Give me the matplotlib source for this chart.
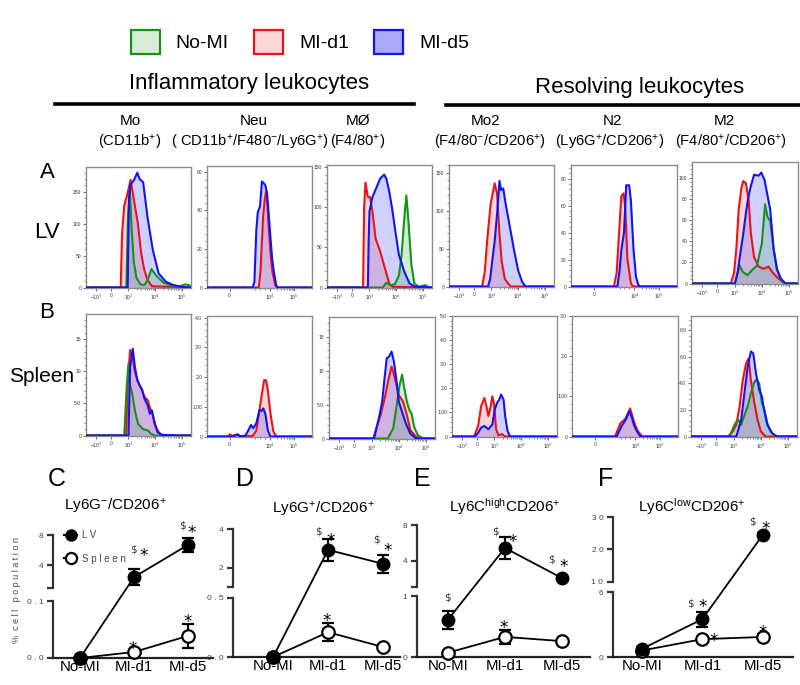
import numpy as np
import matplotlib
matplotlib.use('Agg')
import matplotlib.pyplot as plt
from matplotlib.lines import Line2D
from matplotlib.patches import Patch
from matplotlib.ticker import FixedLocator, NullLocator, AutoMinorLocator
from matplotlib import font_manager

names = {f.name for f in font_manager.fontManager.ttflist}
NARROW = 'Liberation Sans Narrow' if 'Liberation Sans Narrow' in names else 'Liberation Sans'
plt.rcParams['font.family'] = [NARROW, 'DejaVu Sans']
plt.rcParams['mathtext.fontset'] = 'custom'
plt.rcParams['mathtext.rm'] = NARROW
plt.rcParams['mathtext.it'] = NARROW
plt.rcParams['mathtext.bf'] = NARROW

# ---------------- histogram data (x in log-like display units: 10^3=3, 10^4=4, 10^5=5) -------------
# Row A (LV)
lv_mo_red_x = [2.71, 2.76, 2.84, 2.95, 3.08, 3.24, 3.35, 3.47, 3.59, 3.71, 3.88]
lv_mo_red_y = [0, 85, 128, 145, 169, 128, 101, 55, 28, 12, 2]
lv_mo_green_x = [2.92, 2.98, 3.05, 3.12, 3.2, 3.3, 3.45, 3.6, 3.72, 3.86, 4.05, 4.3, 4.6, 4.9, 5.15, 5.3]
lv_mo_green_y = [0, 110, 153, 90, 40, 15, 5, 4, 12, 29, 18, 8, 3, 2, 5, 3]
lv_mo_blue_x = [2.97, 3.02, 3.08, 3.2, 3.33, 3.42, 3.55, 3.71, 3.91, 4.13, 4.4, 4.67, 5.0]
lv_mo_blue_y = [0, 140, 162, 168, 180, 170, 165, 111, 59, 22, 9, 4, 1]

lv_neu_red_x = [3.55, 3.62, 3.73, 3.8, 3.85, 3.9, 3.96, 4.03, 4.1, 4.23, 4.3]
lv_neu_red_y = [0, 8, 37, 46, 50, 44, 31, 18, 9, 1, 0]
lv_neu_blue_x = [3.3, 3.37, 3.45, 3.51, 3.6, 3.68, 3.76, 3.82, 3.89, 3.96, 4.03, 4.1, 4.16, 4.27, 4.35]
lv_neu_blue_y = [0, 3, 30, 39, 42, 55, 54, 53, 49, 38, 26, 15, 9, 1, 0]

lv_mac_red_x = [2.76, 2.8, 2.85, 2.94, 3.02, 3.11, 3.23, 3.4, 3.51, 3.63, 3.74, 3.85]
lv_mac_red_y = [0, 100, 131, 113, 113, 95, 61, 45, 32, 18, 5, 1]
lv_mac_green_x = [3.5, 3.63, 3.72, 3.8, 3.95, 4.1, 4.2, 4.3, 4.38, 4.46, 4.57, 4.68, 4.85, 5.08, 5.25]
lv_mac_green_y = [0, 6, 4, 3, 4, 15, 40, 85, 115, 82, 28, 5, 1, 3, 0]
lv_mac_blue_x = [2.94, 2.97, 3.0, 3.11, 3.25, 3.4, 3.55, 3.63, 3.74, 3.85, 3.97, 4.1, 4.3, 4.5, 4.7]
lv_mac_blue_y = [0, 60, 95, 113, 124, 136, 141, 136, 120, 98, 70, 41, 20, 5, 1]

lv_mo2_red_x = [2.65, 2.75, 2.84, 2.97, 3.12, 3.21, 3.3, 3.38, 3.5, 3.62, 3.73]
lv_mo2_red_y = [0, 20, 61, 109, 136, 122, 69, 34, 10, 4, 0]
lv_mo2_blue_x = [2.87, 2.95, 3.03, 3.12, 3.21, 3.3, 3.36, 3.44, 3.53, 3.67, 3.85, 4.0, 4.15, 4.27]
lv_mo2_blue_y = [0, 10, 34, 60, 96, 139, 127, 129, 109, 82, 47, 21, 6, 0]

lv_n2_red_x = [3.17, 3.28, 3.38, 3.47, 3.56, 3.63, 3.72, 3.86, 3.94]
lv_n2_red_y = [0, 10, 40, 67, 69, 59, 20, 2.5, 0]
lv_n2_blue_x = [3.31, 3.4, 3.47, 3.58, 3.67, 3.79, 3.86, 3.97, 4.07, 4.17, 4.25]
lv_n2_blue_y = [0, 12, 27, 40, 75, 75, 64, 27, 7, 1, 0]

lv_m2_red_x = [2.85, 2.97, 3.06, 3.14, 3.24, 3.31, 3.41, 3.51, 3.59, 3.71, 3.88, 4.06, 4.25, 4.38, 4.56, 4.75, 4.9]
lv_m2_red_y = [0, 10, 35, 70, 90, 97, 95, 79, 48, 25, 16, 14, 16, 11, 6, 2, 0]
lv_m2_green_x = [3.0, 3.1, 3.18, 3.29, 3.47, 3.65, 3.82, 4.0, 4.12, 4.21, 4.31, 4.44, 4.56, 4.75, 4.88]
lv_m2_green_y = [0, 10, 17, 11, 8, 13, 17, 38, 75, 63, 59, 32, 13, 2, 0]
lv_m2_blue_x = [3.0, 3.1, 3.18, 3.3, 3.41, 3.5, 3.59, 3.71, 3.88, 3.98, 4.1, 4.19, 4.31, 4.44, 4.56, 4.69, 4.88]
lv_m2_blue_y = [0, 10, 25, 45, 67, 82, 92, 103, 102, 105, 98, 86, 70, 32, 14, 5, 0]

# Row B (Spleen)
sp_mo_red_x = [2.91, 2.97, 3.06, 3.16, 3.24, 3.36, 3.48, 3.6, 3.72, 3.8, 3.9, 4.03, 4.15, 4.3]
sp_mo_red_y = [0, 8, 13.3, 12, 9.9, 8.3, 7.3, 6, 5.5, 4.4, 3.4, 1.3, 0.4, 0]
sp_mo_green_x = [2.84, 2.94, 3.0, 3.06, 3.14, 3.24, 3.36, 3.54, 3.72, 3.84, 3.98]
sp_mo_green_y = [0, 8, 11.2, 7.8, 6.5, 3.9, 1.8, 1.0, 0.8, 0.3, 0]
sp_mo_blue_x = [3.0, 3.06, 3.16, 3.24, 3.33, 3.42, 3.52, 3.6, 3.72, 3.8, 3.88, 3.96, 4.09, 4.25, 4.9]
sp_mo_blue_y = [0, 10.7, 13.5, 10.7, 8.6, 7.8, 7.0, 5.7, 4.7, 3.4, 3.9, 2.1, 0.5, 0.1, 0]

sp_neu_red_x = [2.3, 2.36, 2.45, 2.6, 2.68, 2.8, 3.3, 3.45, 3.64, 3.77, 3.85, 3.92, 4.05, 4.15, 4.28]
sp_neu_red_y = [0, 0.08, 0.02, 0.03, 0.08, 0, 0.02, 0.2, 1.23, 1.9, 1.9, 1.56, 0.67, 0.17, 0]
sp_neu_blue_x = [2.4, 2.5, 2.65, 2.8, 3.0, 3.13, 3.23, 3.32, 3.45, 3.58, 3.66, 3.74, 3.83, 3.92, 4.03]
sp_neu_blue_y = [0, 0.03, 0.06, 0.01, 0.03, 0.22, 0.39, 0.28, 0.45, 0.89, 0.86, 0.95, 0.73, 0.22, 0]

sp_mac_red_x = [3.05, 3.2, 3.32, 3.49, 3.61, 3.73, 3.82, 3.91, 4.0, 4.16, 4.3, 4.43, 4.64, 4.78]
sp_mac_red_y = [0, 2.0, 3.4, 6.2, 8.6, 10.6, 9.4, 7.9, 6.4, 5.4, 3.4, 1.2, 0.25, 0]
sp_mac_green_x = [3.59, 3.79, 3.94, 4.03, 4.12, 4.2, 4.3, 4.39, 4.47, 4.57, 4.7, 4.9]
sp_mac_green_y = [0, 1.5, 5.4, 7.9, 9.4, 7.4, 5.4, 4.2, 3.7, 1.7, 0.5, 0]
sp_mac_blue_x = [3.08, 3.26, 3.38, 3.47, 3.55, 3.64, 3.73, 3.82, 3.91, 4.0, 4.12, 4.26, 4.43, 4.64]
sp_mac_blue_y = [0, 3.0, 5.4, 8.9, 11.8, 12.1, 12.8, 11.3, 8.6, 5.4, 3.9, 2.2, 0.7, 0]

sp_mo2_red_x = [2.23, 2.39, 2.5, 2.62, 2.7, 2.77, 2.86, 2.92, 2.98, 3.06, 3.15, 3.28, 3.4]
sp_mo2_red_y = [0, 0.44, 1.26, 1.6, 1.26, 0.85, 1.26, 1.67, 1.4, 0.3, 0.05, 0.1, 0]
sp_mo2_blue_x = [2.27, 2.39, 2.5, 2.62, 2.77, 2.92, 3.01, 3.1, 3.18, 3.25, 3.34, 3.4, 3.49, 3.58]
sp_mo2_blue_y = [0, 0.16, 0.37, 0.44, 0.3, 0.5, 1.12, 1.4, 1.53, 1.74, 1.53, 0.85, 0.23, 0]

sp_n2_red_x = [3.17, 3.4, 3.58, 3.79, 3.96, 4.1, 4.28]
sp_n2_red_y = [0, 0.34, 0.43, 0.7, 0.34, 0.14, 0]
sp_n2_blue_x = [3.24, 3.44, 3.62, 3.76, 3.86, 3.96, 4.1, 4.21]
sp_n2_blue_y = [0, 0.26, 0.43, 0.63, 0.47, 0.26, 0.1, 0]

sp_m2_red_x = [2.78, 2.96, 3.09, 3.21, 3.33, 3.45, 3.55, 3.63, 3.76, 3.88, 4.0, 4.18]
sp_m2_red_y = [0, 0.38, 0.88, 2.25, 4.25, 5.5, 5.9, 4.25, 2.5, 1.25, 0.38, 0]
sp_m2_green_x = [2.84, 3.02, 3.15, 3.27, 3.39, 3.51, 3.63, 3.76, 3.84, 3.94, 4.04, 4.12, 4.24, 4.36, 4.54]
sp_m2_green_y = [0, 0.88, 1.3, 0.88, 1.6, 2.25, 3.25, 4.1, 4.3, 4.0, 2.5, 2.1, 1.0, 0.38, 0]
sp_m2_blue_x = [3.09, 3.27, 3.39, 3.51, 3.63, 3.72, 3.82, 3.94, 4.04, 4.12, 4.24, 4.42, 4.6]
sp_m2_blue_y = [0, 1.25, 3.25, 5.25, 6.4, 6.25, 4.75, 3.5, 3.0, 2.0, 0.88, 0.25, 0]

# histogram y-axis ticks / labels
hist_lv_yticks = [[0, 50, 100, 150], [0, 20, 40, 60], [0, 50, 100, 150],
                  [0, 50, 100, 150], [0, 20, 40, 60, 80], [0, 20, 40, 60, 80, 100]]
hist_lv_ymax = [189, 63, 153, 160, 90, 115]
hist_sp_yticks = [[0, 5, 10, 15], [0, 1, 2, 3, 4], [0, 5, 10, 15],
                  [0, 1, 2, 3, 4, 5], [0, 1, 2, 3], [0, 2, 4, 6, 8]]
hist_sp_ylabels = [['0', '5.0', '10', '15'], ['0', '1.00', '2.0', '3.0', '4.0'], ['0', '5.0', '10', '15'],
                   ['0', '1.00', '2.0', '3.0', '4.0', '5.0'], ['0', '1.00', '2.0', '3.0'],
                   ['0', '2.0', '4.0', '6.0', '8.0']]
hist_sp_ymax = [18.9, 4.06, 17.9, 5.0, 3.0, 9.07]
wide_xticks = [1.78, 2.35, 3, 4, 5]
wide_xlabels = [r'$-10^3$', '0', r'$10^3$', r'$10^4$', r'$10^5$']
narrow_xticks = [2.35, 4, 5]
narrow_xlabels = ['0', r'$10^4$', r'$10^5$']

# ---------------- summary (C-F) data ----------------
categories = ['No-MI', 'MI-d1', 'MI-d5']
C_lv = [0.0, 2.45, 6.7];   C_lv_err = [0.0, 1.1, 0.9]
C_sp = [0.0, 0.0105, 0.039]; C_sp_err = [0.0, 0.003, 0.021]
D_lv = [0.0, 2.92, 2.2];   D_lv_err = [0.0, 0.57, 0.46]
D_sp = [0.0, 0.21, 0.085]; D_sp_err = [0.0, 0.075, 0.008]
E_lv = [0.61, 5.44, 2.1];  E_lv_err = [0.15, 1.22, 0.12]
E_sp = [0.07, 0.33, 0.26]; E_sp_err = [0.01, 0.12, 0.02]
F_lv = [0.75, 3.5, 24.5];  F_lv_err = [0.2, 0.7, 0.6]
F_sp = [0.6, 1.65, 1.85];  F_sp_err = [0.1, 0.15, 0.25]

W, H = 800, 685
fig = plt.figure(figsize=(W / 100, H / 100), dpi=100)


def px_axes(x0, y0, x1, y1):
    return fig.add_axes([x0 / W, 1 - y1 / H, (x1 - x0) / W, (y1 - y0) / H])


def ftext(x, y, s, **kw):
    kw.setdefault('ha', 'center')
    kw.setdefault('va', 'center')
    return fig.text(x / W, 1 - y / H, s, **kw)


LINE = {'red': '#e8141b', 'green': '#1b8f1b', 'blue': '#1414f0'}
FILL = {'red': (1.0, 0.45, 0.45, 0.30), 'green': (0.35, 0.75, 0.35, 0.28), 'blue': (0.40, 0.40, 1.0, 0.30)}


def hist_panel(box, curves, wide, yticks, ylabels, ymax):
    ax = px_axes(*box)
    xlim = (1.41, 5.34) if wide else (1.42, 5.74)
    ax.set_xlim(*xlim)
    ax.set_ylim(-ymax * 0.004, ymax)
    for color, xs, ys in curves:
        xs = np.concatenate([[xlim[0]], xs, [xlim[1]]])
        ys = np.concatenate([[0], ys, [0]])
        ax.fill_between(xs, 0, ys, color=FILL[color], lw=0, zorder=2)
        ax.plot(xs, ys, color=LINE[color], lw=1.5, zorder=3, solid_joinstyle='round')
    if wide:
        ax.set_xticks(wide_xticks, wide_xlabels)
        minors = [3 + np.log10(k) for k in range(2, 10)] + [4 + np.log10(k) for k in range(2, 10)]
    else:
        ax.set_xticks(narrow_xticks, narrow_xlabels)
        minors = [3.4, 3.6, 3.8] + [4 + np.log10(k) for k in range(2, 10)]
    ax.xaxis.set_minor_locator(FixedLocator(minors))
    ax.set_yticks(yticks, ylabels)
    ax.yaxis.set_minor_locator(AutoMinorLocator(5))
    ax.tick_params(which='major', length=2.2, width=0.5, labelsize=3.6, pad=1.2, colors='#333333')
    ax.tick_params(which='minor', length=1.2, width=0.4, colors='#333333')
    for s in ax.spines.values():
        s.set_color('#8c8c8c')
        s.set_linewidth(1.0)
    return ax


lv_boxes = [(86, 167, 191, 288), (207, 166, 312, 288), (327, 165, 432, 288),
            (449, 165, 554, 287), (571, 165, 677, 287), (692, 162, 798, 284)]
sp_boxes = [(86, 314, 191, 436), (207, 316, 312, 437), (329, 317, 435, 439),
            (452, 316, 557, 437), (572, 316, 678, 437), (691, 316, 797, 437)]
wides = [True, False, True, True, False, True]

lv_curves = [
    [('red', lv_mo_red_x, lv_mo_red_y), ('green', lv_mo_green_x, lv_mo_green_y), ('blue', lv_mo_blue_x, lv_mo_blue_y)],
    [('red', lv_neu_red_x, lv_neu_red_y), ('blue', lv_neu_blue_x, lv_neu_blue_y)],
    [('red', lv_mac_red_x, lv_mac_red_y), ('green', lv_mac_green_x, lv_mac_green_y), ('blue', lv_mac_blue_x, lv_mac_blue_y)],
    [('red', lv_mo2_red_x, lv_mo2_red_y), ('blue', lv_mo2_blue_x, lv_mo2_blue_y)],
    [('red', lv_n2_red_x, lv_n2_red_y), ('blue', lv_n2_blue_x, lv_n2_blue_y)],
    [('red', lv_m2_red_x, lv_m2_red_y), ('green', lv_m2_green_x, lv_m2_green_y), ('blue', lv_m2_blue_x, lv_m2_blue_y)],
]
sp_curves = [
    [('red', sp_mo_red_x, sp_mo_red_y), ('green', sp_mo_green_x, sp_mo_green_y), ('blue', sp_mo_blue_x, sp_mo_blue_y)],
    [('red', sp_neu_red_x, sp_neu_red_y), ('blue', sp_neu_blue_x, sp_neu_blue_y)],
    [('red', sp_mac_red_x, sp_mac_red_y), ('green', sp_mac_green_x, sp_mac_green_y), ('blue', sp_mac_blue_x, sp_mac_blue_y)],
    [('red', sp_mo2_red_x, sp_mo2_red_y), ('blue', sp_mo2_blue_x, sp_mo2_blue_y)],
    [('red', sp_n2_red_x, sp_n2_red_y), ('blue', sp_n2_blue_x, sp_n2_blue_y)],
    [('red', sp_m2_red_x, sp_m2_red_y), ('green', sp_m2_green_x, sp_m2_green_y), ('blue', sp_m2_blue_x, sp_m2_blue_y)],
]
for i in range(6):
    hist_panel(lv_boxes[i], lv_curves[i], wides[i], hist_lv_yticks[i],
               [str(t) for t in hist_lv_yticks[i]], hist_lv_ymax[i])
    hist_panel(sp_boxes[i], sp_curves[i], wides[i], hist_sp_yticks[i],
               hist_sp_ylabels[i], hist_sp_ymax[i])

# ---------------- header texts ----------------
legend_handles = [Patch(facecolor='#d6ecd6', edgecolor='#1b8f1b', lw=1.6),
                  Patch(facecolor='#fdd6d6', edgecolor='#e8141b', lw=1.6),
                  Patch(facecolor='#a9a9f7', edgecolor='#1414f0', lw=1.6)]
fig.legend(legend_handles, ['No-MI', 'MI-d1', 'MI-d5'], loc='center',
           bbox_to_anchor=(300 / W, 1 - 42 / H), ncol=3, frameon=False, fontsize=14,
           handlelength=1.5, handleheight=1.5, columnspacing=1.3, handletextpad=0.8)

ftext(249, 83, 'Inflammatory leukocytes', fontsize=16)
ftext(640, 87, 'Resolving leukocytes', fontsize=16)
fig.add_artist(Line2D([55 / W, 414 / W], [1 - 104 / H] * 2, color='black', lw=2.6))
fig.add_artist(Line2D([446 / W, 800 / W], [1 - 105 / H] * 2, color='black', lw=2.6))

hdr1 = [(130, 'Mo'), (254, 'Neu'), (358, 'MØ'), (486, 'Mo2'), (612, 'N2'), (724, 'M2')]
hdr2 = [(130, r'(CD11b$^{+}$)'), (250, r'( CD11b$^{+}$/F480$^{-}$/Ly6G$^{+}$)'), (358, r'(F4/80$^{+}$)'),
        (490, r'(F4/80$^{-}$/CD206$^{+}$)'), (610, r'(Ly6G$^{+}$/CD206$^{+}$)'), (731, r'(F4/80$^{+}$/CD206$^{+}$)')]
for x, s in hdr1:
    ftext(x, 121, s, fontsize=11)
for x, s in hdr2:
    ftext(x, 142, s, fontsize=10.6)

ftext(47, 172, 'A', fontsize=16)
ftext(47, 232, 'LV', fontsize=16)
ftext(47, 313, 'B', fontsize=16)
ftext(42, 377, 'Spleen', fontsize=15)

# ---------------- summary panels ----------------


def make_break(lo1, up0, up1, L, G):
    def fwd(y):
        y = np.asarray(y, dtype=float)
        return np.where(y <= lo1, y / lo1 * L,
                        np.where(y <= up0, L + (y - lo1) / (up0 - lo1) * (G - L),
                                 G + (y - up0) / (up1 - up0) * (1 - G)))

    def inv(v):
        v = np.asarray(v, dtype=float)
        return np.where(v <= L, v / L * lo1,
                        np.where(v <= G, lo1 + (v - L) / (G - L) * (up0 - lo1),
                                 up0 + (v - G) / (1 - G) * (up1 - up0)))
    return fwd, inv


def summary_panel(box, xlim, brk, yticks, ylabels, lv, lv_err, sp, sp_err):
    lo1, up0, up1, L, G = brk
    ax = px_axes(*box)
    ax.set_yscale('function', functions=make_break(lo1, up0, up1, L, G))
    ax.set_ylim(0, up1)
    ax.set_xlim(*xlim)
    x = np.arange(len(categories))
    conts = []
    conts.append(ax.errorbar(x, sp, yerr=sp_err, fmt='-o', color='black', mfc='white', mec='black',
                             mew=1.6, ms=9, lw=1.3, elinewidth=1.6, capsize=4.5, capthick=1.6, zorder=4))
    conts.append(ax.errorbar(x, lv, yerr=lv_err, fmt='-o', color='black', mfc='black', mec='black',
                             ms=9, lw=1.3, elinewidth=1.6, capsize=4.5, capthick=1.6, zorder=5))
    for c in conts:
        for art in c.get_children():
            art.set_clip_on(False)
    ax.spines['left'].set_visible(False)
    ax.spines['top'].set_visible(False)
    ax.spines['right'].set_visible(False)
    ax.spines['bottom'].set_linewidth(1.6)
    ax.spines['bottom'].set_color('#222222')
    yt = ax.get_yaxis_transform()
    ax.plot([0, 0], [0, lo1], transform=yt, color='#333333', lw=1.6, clip_on=False)
    ax.plot([0, 0], [up0, up1], transform=yt, color='#333333', lw=1.6, clip_on=False)
    ax.set_yticks(yticks, ylabels)
    ax.yaxis.set_minor_locator(NullLocator())
    ax.tick_params(axis='y', length=4.5, width=1.6, color='#333333', labelsize=6,
                   labelcolor='#444444', pad=2.5)
    ax.set_xticks(x, categories)
    ax.tick_params(axis='x', length=0, labelsize=10.8, pad=1.5)
    ax.patch.set_alpha(0)
    return ax


axC = summary_panel((53, 535, 213, 658), (-0.5, 2.46), (0.1, 1.0, 8, 0.463, 0.569),
                    [0, 0.1, 1.0, 4, 8], ['0 . 0', '0 . 1', '', '4', '8'], C_lv, C_lv_err, C_sp, C_sp_err)
axD = summary_panel((233, 529, 400, 657), (-0.73, 2.31), (0.5, 1.0, 4, 0.461, 0.547),
                    [0, 0.5, 1.0, 2, 4], ['0 . 0', '0 . 5', '', '2', '4'], D_lv, D_lv_err, D_sp, D_sp_err)
axE = summary_panel((417, 525, 590, 657), (-0.54, 2.49), (1.0, 1.1, 8, 0.462, 0.530),
                    [0, 1.0, 1.1, 4, 8], ['0', '1', '', '4', '8'], E_lv, E_lv_err, E_sp, E_sp_err)
axF = summary_panel((613, 517, 793, 657), (-0.48, 2.5), (6, 10, 30, 0.464, 0.536),
                    [0, 6, 10, 20, 30], ['0', '6', '1 0', '2 0', '3 0'], F_lv, F_lv_err, F_sp, F_sp_err)

leg_handles = [Line2D([], [], color='black', marker='o', mfc='black', ms=8, lw=1.5),
               Line2D([], [], color='black', marker='o', mfc='white', mew=1.6, ms=8, lw=1.5)]
axC.legend(leg_handles, ['L V', 'S p l e e n'], loc='upper left', bbox_to_anchor=(0.07, 1.04),
           frameon=False, fontsize=7, handlelength=1.3, handletextpad=0.5, labelspacing=1.4,
           borderpad=0, borderaxespad=0, labelcolor='#444444')

for x, s in [(57, 'C'), (245, 'D'), (422, 'E'), (606, 'F')]:
    ftext(x, 479, s, fontsize=18)
ftext(115, 507, r'Ly6G$^{-}$/CD206$^{+}$', fontsize=11)
ftext(323, 510, r'Ly6G$^{+}$/CD206$^{+}$', fontsize=11)
ftext(505, 507, r'Ly6C$^{\mathrm{high}}$CD206$^{+}$', fontsize=11)
ftext(692, 507, r'Ly6C$^{\mathrm{low}}$CD206$^{+}$', fontsize=11)
ftext(17, 590, '%  c e l l   p o p u l a t i o n', fontsize=6.5, rotation=90, color='#444444')

marks = [('$', 133, 549), ('*', 144, 553), ('$', 182, 526), ('*', 192, 530), ('*', 133, 646), ('*', 188, 619),
         ('$', 318, 531), ('*', 331, 538), ('$', 376, 540), ('*', 388, 548), ('*', 327, 618),
         ('$', 447, 597), ('$', 495, 531), ('*', 513, 539), ('$', 551, 559), ('*', 564, 564), ('*', 504, 625),
         ('$', 690, 603), ('*', 703, 604), ('*', 714, 638), ('$', 752, 522), ('*', 766, 526), ('*', 763, 630)]
for s, x, y in marks:
    if s == '$':
        ftext(x, y, r'\$', fontsize=7.5, color='#333333', family='DejaVu Sans')
    else:
        ftext(x, y + 3, '*', fontsize=12, color='black', family='DejaVu Sans')

fig.savefig('out.png', dpi=100)
